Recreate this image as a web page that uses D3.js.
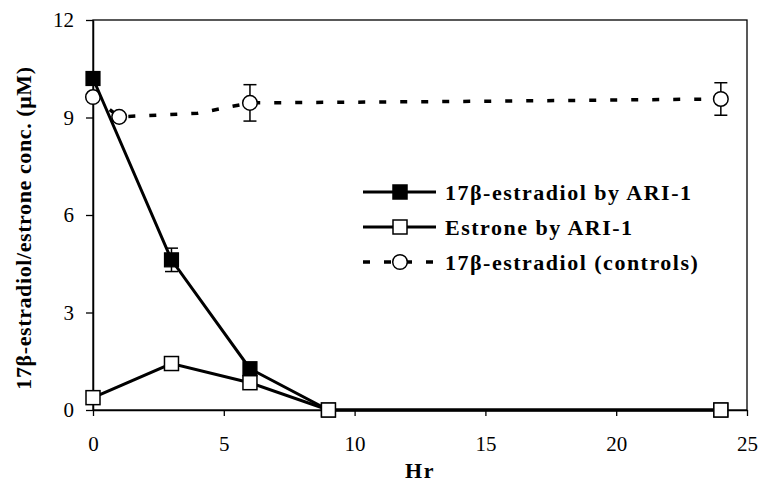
<!DOCTYPE html>
<html>
<head>
<meta charset="utf-8">
<script src="https://cdn.jsdelivr.net/npm/d3@7"></script>
<style>
  body { margin: 0; background: #fff; }
  svg text { font-family: "Liberation Serif", Tinos, "Times New Roman", "DejaVu Serif", serif !important; }
</style>
</head>
<body>
<div id="chart"></div>
<script>
// data
var hours = [0, 3, 6, 9, 24];
var estradiolARI = [10.2, 4.62, 1.27, 0, 0];
var estradiolErr = [0, 0.36, 0, 0, 0];
var estroneARI = [0.38, 1.43, 0.84, 0, 0];

// controls: the line passes through two points without a marker (x = 4, 15)
var ctrlHours = [0, 1, 4, 6, 15, 24];
var ctrlValues = [9.63, 9.02, 9.13, 9.45, 9.5, 9.57];
var ctrlErr = [0, 0, 0, 0.56, 0, 0.5];
var ctrlMarker = [true, true, false, true, false, true];

var xTicks = [0, 5, 10, 15, 20, 25];
var yTicks = [0, 3, 6, 9, 12];

var seriesNames = ["17\u03b2-estradiol by ARI-1", "Estrone by ARI-1", "17\u03b2-estradiol (controls)"];

var svgWidth = 761, svgHeight = 485;
var margin = { top: 20, right: 14, bottom: 75, left: 93 };
var width = svgWidth - margin.left - margin.right;
var height = svgHeight - margin.top - margin.bottom;

var svg = d3.select("#chart").append("svg")
  .attr("width", svgWidth)
  .attr("height", svgHeight);

var g = svg.append("g")
  .attr("transform", `translate(${margin.left}, ${margin.top})`);

var x = d3.scaleLinear().domain([0, 25]).range([0, width]);
var y = d3.scaleLinear().domain([0, 12]).range([height, 0]);

// frame
g.append("rect")
  .attr("width", width)
  .attr("height", height)
  .attr("fill", "none")
  .attr("stroke", "#000")
  .attr("stroke-width", 1.3);

// axes
var xAxis = g.append("g")
  .attr("transform", `translate(0, ${height})`)
  .call(d3.axisBottom(x).tickValues(xTicks).tickSize(6).tickPadding(20).tickSizeOuter(0));
var yAxis = g.append("g")
  .call(d3.axisLeft(y).tickValues(yTicks).tickSize(7).tickPadding(12).tickSizeOuter(0));

[xAxis, yAxis].forEach(function (ax) {
  ax.select(".domain").attr("stroke-width", 1.5);
  ax.selectAll(".tick line").attr("stroke-width", 1.3);
  ax.selectAll("text")
    .attr("font-size", 21)
    .attr("fill", "#000");
});

// axis titles
g.append("text")
  .attr("x", width / 2)
  .attr("y", height + 68)
  .attr("text-anchor", "middle")
  .attr("font-size", 22)
  .attr("font-weight", "bold")
  .attr("letter-spacing", 1.5)
  .text("Hr");

g.append("text")
  .attr("transform", "rotate(-90)")
  .attr("x", -height / 2 - 13)
  .attr("y", -62)
  .attr("text-anchor", "middle")
  .attr("font-size", 22)
  .attr("font-weight", "bold")
  .attr("letter-spacing", 0.6)
  .text("17\u03b2-estradiol/estrone conc. (\u03bcM)");

var line = d3.line()
  .x(d => x(d[0]))
  .y(d => y(d[1]));

var ctrlData = ctrlHours.map((h, i) => [h, ctrlValues[i], ctrlErr[i], ctrlMarker[i]]);
var e2Data = hours.map((h, i) => [h, estradiolARI[i], estradiolErr[i]]);
var e1Data = hours.map((h, i) => [h, estroneARI[i], 0]);

function errorBars(data) {
  var eb = g.append("g").selectAll("g")
    .data(data.filter(d => d[2] > 0))
    .enter().append("g")
    .attr("stroke", "#000")
    .attr("stroke-width", 1.5);
  eb.append("line")
    .attr("x1", d => x(d[0])).attr("x2", d => x(d[0]))
    .attr("y1", d => y(d[1] - d[2])).attr("y2", d => y(d[1] + d[2]));
  eb.append("line")
    .attr("x1", d => x(d[0]) - 6.5).attr("x2", d => x(d[0]) + 6.5)
    .attr("y1", d => y(d[1] + d[2])).attr("y2", d => y(d[1] + d[2]));
  eb.append("line")
    .attr("x1", d => x(d[0]) - 6.5).attr("x2", d => x(d[0]) + 6.5)
    .attr("y1", d => y(d[1] - d[2])).attr("y2", d => y(d[1] - d[2]));
}

// controls series
errorBars(ctrlData);
g.append("path")
  .datum(ctrlData)
  .attr("d", line)
  .attr("fill", "none")
  .attr("stroke", "#000")
  .attr("stroke-width", 3.5)
  .attr("stroke-dasharray", "7,14");
g.append("g").selectAll("circle")
  .data(ctrlData.filter(d => d[3]))
  .enter().append("circle")
  .attr("cx", d => x(d[0]))
  .attr("cy", d => y(d[1]))
  .attr("r", 7.3)
  .attr("fill", "#fff")
  .attr("stroke", "#000")
  .attr("stroke-width", 1.5);

// estradiol by ARI-1
errorBars(e2Data);
g.append("path")
  .datum(e2Data)
  .attr("d", line)
  .attr("fill", "none")
  .attr("stroke", "#000")
  .attr("stroke-width", 3);
g.append("g").selectAll("rect")
  .data(e2Data)
  .enter().append("rect")
  .attr("x", d => x(d[0]) - 7)
  .attr("y", d => y(d[1]) - 7)
  .attr("width", 14)
  .attr("height", 14)
  .attr("fill", "#000")
  .attr("stroke", "#000")
  .attr("stroke-width", 1.2);

// estrone by ARI-1
g.append("path")
  .datum(e1Data)
  .attr("d", line)
  .attr("fill", "none")
  .attr("stroke", "#000")
  .attr("stroke-width", 3);
g.append("g").selectAll("rect")
  .data(e1Data)
  .enter().append("rect")
  .attr("x", d => x(d[0]) - 7)
  .attr("y", d => y(d[1]) - 7)
  .attr("width", 14)
  .attr("height", 14)
  .attr("fill", "#fff")
  .attr("stroke", "#000")
  .attr("stroke-width", 1.5);

// legend
var legend = svg.append("g").attr("transform", "translate(363, 192)");
var rowH = 35;
seriesNames.forEach(function (name, i) {
  var row = legend.append("g").attr("transform", `translate(0, ${i * rowH})`);
  row.append("line")
    .attr("x1", 0).attr("x2", 73)
    .attr("stroke", "#000")
    .attr("stroke-width", i === 2 ? 3.5 : 3)
    .attr("stroke-dasharray", i === 2 ? "7,14" : null);
  if (i === 2) {
    row.append("circle")
      .attr("cx", 37).attr("r", 7.3)
      .attr("fill", "#fff").attr("stroke", "#000").attr("stroke-width", 1.5);
  } else {
    row.append("rect")
      .attr("x", 30).attr("y", -7).attr("width", 14).attr("height", 14)
      .attr("fill", i === 0 ? "#000" : "#fff")
      .attr("stroke", "#000").attr("stroke-width", 1.5);
  }
  row.append("text")
    .attr("x", 82)
    .attr("y", 7.5)
    .attr("font-size", 22)
    .attr("font-weight", "bold")
    .attr("letter-spacing", 1.5)
    .text(name);
});
</script>
</body>
</html>
